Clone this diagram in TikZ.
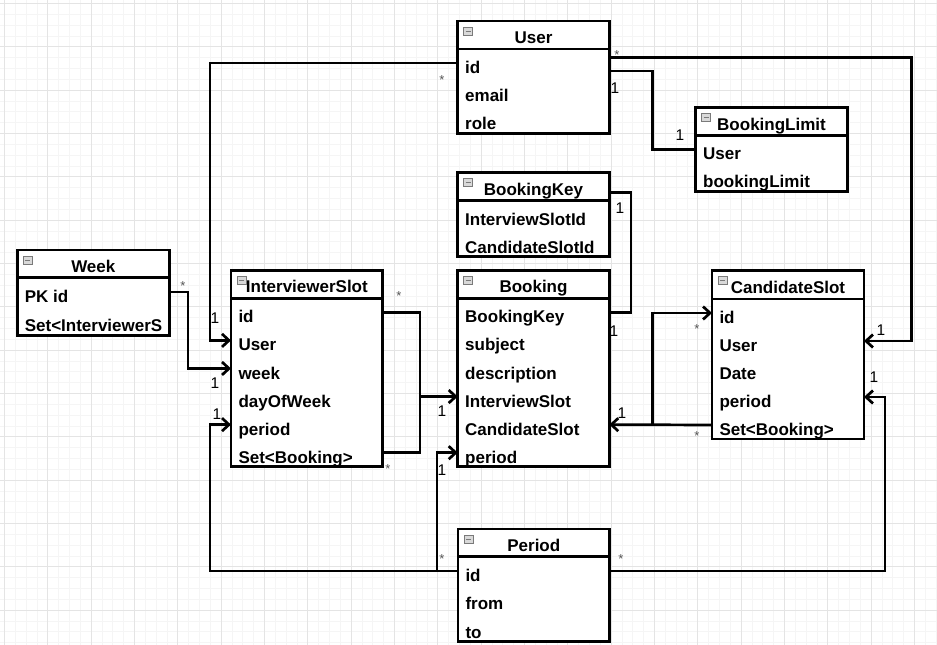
\documentclass[tikz,border=0pt]{standalone}
\usepackage{fontspec}
\setmainfont{Liberation Sans}
\usetikzlibrary{arrows.meta,calc}
\definecolor{gridmin}{HTML}{F5F5F5}
\definecolor{gridmaj}{HTML}{E4E4E4}
\definecolor{iconfill}{HTML}{D9D9D9}
\definecolor{iconline}{HTML}{7A7A7A}
\definecolor{stargray}{HTML}{555555}
\tikzset{
 frame/.style={draw=black, fill=white, line width=2.8pt, anchor=north west, inner sep=0pt, outer sep=0pt},
 hdrbox/.style={anchor=north west, inner sep=0pt, outer sep=0pt},
 rowbox/.style={anchor=north west, inner sep=0pt, outer sep=0pt},
 sepline/.style={line width=2.6pt},
 titletext/.style={font=\fontsize{17}{20}\selectfont\bfseries, inner sep=0pt, anchor=base},
 rowtext/.style={font=\fontsize{17}{20}\selectfont\bfseries, inner sep=0pt, anchor=base west},
 iconbox/.style={draw=iconline, fill=iconfill, line width=0.8pt, minimum width=9pt, minimum height=8pt, inner sep=0pt},
 conn/.style={line width=2.7pt, line join=miter},
 arr/.style={-{Straight Barb[length=7pt,width=13pt]}},
 one/.style={font=\fontsize{15.5}{15.5}\selectfont, inner sep=0pt},
 many/.style={font=\fontsize{13}{13}\selectfont, text=stargray, inner sep=0pt},
}
\newcommand\umlclass[9]{%
  \node[frame, minimum width=#4pt, minimum height={(#5+#7*#6)*1pt}] (#1) at (#2,#3) {};
  \node[hdrbox, minimum width=#4pt, minimum height=#5pt] (#1-h) at (#2,#3) {};
  \draw[sepline] (#1-h.south west) -- (#1-h.south east);
  \node[titletext] (#1-t) at ($(#1-h.south)+(0,-5.7)$) {#8};
  \node[iconbox] (#1-i) at ($(#1-h.north west)+(10.5,10)$) {};
  \draw[iconline, line width=0.9pt] ($(#1-i.center)+(-2.5,0)$) -- ($(#1-i.center)+(2.5,0)$);
  \foreach \r [count=\k] in {#9} {
    \node[rowbox, minimum width=#4pt, minimum height=#6pt] (#1-\k) at ({#2},{#3+#5+(\k-1)*#6}) {};
    \node[rowtext] (#1-\k-t) at ($(#1-\k.south west)+(7.3,-3.5)$) {\r};
  }
}
\begin{document}
\begin{tikzpicture}[x=1pt,y=-1pt]
\useasboundingbox (0,0) rectangle (937,645);
\fill[white] (0,0) rectangle (937,645);
% grid
\foreach \i in {0,...,86} { \draw[gridmin, line width=0.8pt] ({4.4+\i*10.8333},0) -- ({4.4+\i*10.8333},645); }
\foreach \i in {0,...,59} { \draw[gridmin, line width=0.8pt] (0,{3.4+\i*10.8333}) -- (937,{3.4+\i*10.8333}); }
\foreach \i in {0,...,21} { \draw[gridmaj, line width=1.1pt] ({4.4+\i*43.333},0) -- ({4.4+\i*43.333},645); }
\foreach \i in {0,...,14} { \draw[gridmaj, line width=1.1pt] (0,{3.4+\i*43.333}) -- (937,{3.4+\i*43.333}); }

% classes
\umlclass{user}{457.7}{21}{151.6}{28}{28.1}{3}{User}{id,email,role}
\umlclass{bl}{695.7}{107.3}{151.6}{28.4}{27.7}{2}{BookingLimit}{User,bookingLimit}
\umlclass{wk}{17.3}{250}{152}{27.7}{28.7}{2}{Week}{PK id,Set<InterviewerS}
\umlclass{is}{231}{270.7}{151.7}{27.6}{28.07}{6}{InterviewerSlot}{id,User,week,dayOfWeek,period,Set<Booking>}
\umlclass{bkey}{457.7}{172.3}{151.6}{28.4}{28}{2}{BookingKey}{InterviewSlotId,CandidateSlotId}
\umlclass{bk}{457.7}{270.7}{151.6}{27.6}{28.07}{6}{Booking}{BookingKey,subject,description,InterviewSlot,CandidateSlot,period}
\umlclass{cs}{712}{270.7}{152}{28.3}{28}{5}{CandidateSlot}{id,User,Date,period,Set<Booking>}
\umlclass{pe}{458}{529}{151.6}{27.7}{28.3}{3}{Period}{id,from,to}

% connectors
\draw[conn,arr] (user-1.west) -| ([xshift=-21pt]is-2.west) -- (is-2.west);
\draw[conn,arr] ([yshift=5.7pt]user-1.east) -| ([xshift=47.7pt]cs-2.east) -- (cs-2.east);
\draw[conn] ([yshift=-8pt]user-1.east) -| ([xshift=-43.4pt]bl-1.west) -- (bl-1.west);
\draw[conn,arr] (wk-1.east) -| ([xshift=-43pt]is-3.west) -- (is-3.west);
\coordinate (isv) at ([xshift=37.3pt]is-1.east);
\draw[conn] (is-1.east) -| ([xshift=37.3pt]is-6.east) -- (is-6.east);
\draw[conn,arr] (isv |- bk-4.west) -- (bk-4.west);
\coordinate (pev) at ([xshift=-21pt]pe-1.west);
\draw[conn,arr] (pe-1.west) -| ([xshift=-21pt]is-5.west) -- (is-5.west);
\draw[conn,arr] (pev) |- (bk-6.west);
\draw[conn,arr] (pe-1.east) -| ([xshift=21pt]cs-4.east) -- (cs-4.east);
\coordinate (csv) at ([xshift=-59.7pt]cs-5.west);
\draw[conn,arr] (cs-5.west) -- (bk-5.east);
\draw[conn,arr] (csv) |- (cs-1.west);
\draw[conn] ([yshift=-6.2pt]bkey-h.east) -| ([xshift=21.7pt]bk-1.east) -- (bk-1.east);

% multiplicities
\node[many] (m1) at (442,80) {*};
\node[one] (o1) at (215,318) {1};
\node[many] (m2) at (617,55) {*};
\node[one] (o2) at (881,330) {1};
\node[one] (o3) at (615,88) {1};
\node[one] (o4) at (680,135) {1};
\node[many] (m3) at (183,286) {*};
\node[one] (o5) at (215,383) {1};
\node[many] (m4) at (399,296) {*};
\node[many] (m5) at (388,469) {*};
\node[one] (o6) at (442,411) {1};
\node[one] (o7) at (217,414) {1};
\node[one] (o8) at (442,470) {1};
\node[many] (m6) at (442,559) {*};
\node[many] (m7) at (621,559) {*};
\node[one] (o9) at (874,377) {1};
\node[many] (m8) at (697,329) {*};
\node[many] (m9) at (697,436) {*};
\node[one] (o10) at (622,413) {1};
\node[one] (o11) at (620,208) {1};
\node[one] (o12) at (614,331) {1};
\end{tikzpicture}
\end{document}
